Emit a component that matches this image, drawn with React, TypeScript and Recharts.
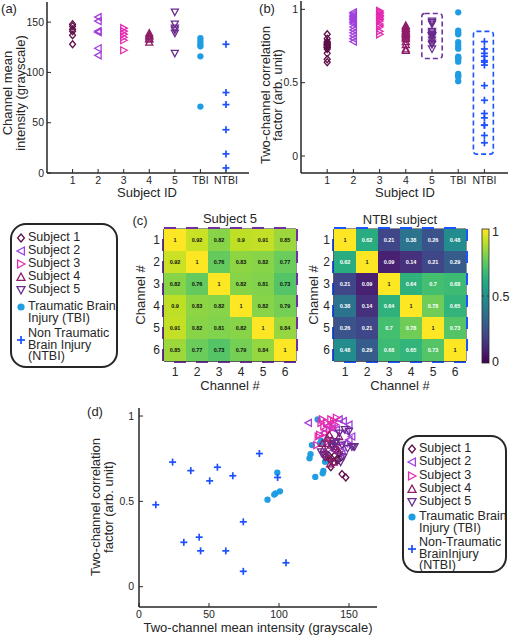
import React from "react";
import { ReferenceArea, Scatter, ScatterChart, XAxis, YAxis } from "recharts";

const SUBJECT_IDS = ["1", "2", "3", "4", "5", "TBI", "NTBI"];
const GROUP_TICKS = [1, 2, 3, 4, 5, 6, 7];
const CHANNELS = [1, 2, 3, 4, 5, 6];

// (a) channel mean intensity, one value per channel
const MEAN_S1 = [148, 146, 143, 141, 137, 128];
const MEAN_S2 = [155, 151, 141, 140, 124, 117];
const MEAN_S3 = [144, 141, 138, 135, 132, 122];
const MEAN_S4 = [139, 137, 136, 134, 133, 130];
const MEAN_S5 = [160, 148, 144, 142, 139, 119];
const MEAN_TBI = [134, 131, 128, 126, 116, 66];
const MEAN_NTBI = [128, 80, 68, 43, 19, 5];

// (b)/(d) two-channel correlation, one value per channel pair
const CORR_S1 = [0.83, 0.8, 0.78, 0.77, 0.77, 0.76, 0.76, 0.75, 0.75, 0.74, 0.74, 0.73, 0.7, 0.66, 0.64];
const CORR_S2 = [0.98, 0.97, 0.96, 0.95, 0.94, 0.93, 0.92, 0.91, 0.9, 0.88, 0.86, 0.84, 0.82, 0.8, 0.78];
const CORR_S3 = [0.99, 0.98, 0.98, 0.97, 0.96, 0.96, 0.95, 0.94, 0.93, 0.92, 0.9, 0.89, 0.88, 0.85, 0.83];
const CORR_S4 = [0.89, 0.88, 0.87, 0.86, 0.85, 0.84, 0.84, 0.83, 0.82, 0.81, 0.8, 0.78, 0.76, 0.73, 0.72];
const CORR_S5 = [0.92, 0.82, 0.9, 0.91, 0.85, 0.76, 0.83, 0.82, 0.77, 0.82, 0.81, 0.73, 0.82, 0.79, 0.84];
const CORR_TBI = [0.98, 0.854, 0.84, 0.83, 0.776, 0.752, 0.732, 0.678, 0.668, 0.664, 0.643, 0.559, 0.547, 0.54, 0.51];
const CORR_NTBI = [0.48, 0.73, 0.68, 0.26, 0.29, 0.21, 0.62, 0.7, 0.21, 0.65, 0.38, 0.09, 0.78, 0.64, 0.14];

// (d) two-channel mean intensity, same pair order as above
const PAIR_X_S1 = [138.5, 140.5, 143.5, 135.5, 139.8, 133, 144.5, 141.7, 136, 137, 142, 139.3, 137, 145, 147.7];
const PAIR_X_S2 = [143, 146, 121, 150, 135, 138, 141, 148, 132, 152, 150, 147, 144, 139, 145];
const PAIR_X_S3 = [141, 131, 137, 139, 134, 130, 140, 132, 138, 136, 133, 129, 128, 135, 127];
const PAIR_X_S4 = [136, 143, 134.5, 138, 141, 131, 134, 137, 140, 132, 142, 133, 135, 139, 136.5];
const PAIR_X_S5 = [147, 154, 143, 150, 141, 146, 145, 152, 132, 138, 149, 144, 153, 130, 140];
const PAIR_X_TBI = [127.6, 130.2, 129.3, 123.5, 122.5, 121.8, 132.9, 131.7, 98.8, 131.2, 125.9, 100.7, 97.6, 96.6, 91.8];
const PAIR_X_NTBI = [12, 24, 37, 32, 43, 44, 50.5, 56, 62, 67, 74.5, 74.5, 86, 99, 105];

// (c) correlation matrices
const SUBJECT5_MATRIX = [
  [1, 0.92, 0.82, 0.9, 0.91, 0.85],
  [0.92, 1, 0.76, 0.83, 0.82, 0.77],
  [0.82, 0.76, 1, 0.82, 0.81, 0.73],
  [0.9, 0.83, 0.82, 1, 0.82, 0.79],
  [0.91, 0.82, 0.81, 0.82, 1, 0.84],
  [0.85, 0.77, 0.73, 0.79, 0.84, 1],
];
const NTBI_MATRIX = [
  [1, 0.62, 0.21, 0.38, 0.26, 0.48],
  [0.62, 1, 0.09, 0.14, 0.21, 0.29],
  [0.21, 0.09, 1, 0.64, 0.7, 0.68],
  [0.38, 0.14, 0.64, 1, 0.78, 0.65],
  [0.26, 0.21, 0.7, 0.78, 1, 0.73],
  [0.48, 0.29, 0.68, 0.65, 0.73, 1],
];

const FONT = '"Liberation Sans", Arial, Helvetica, sans-serif';
const INK = "#262626";
const COLORS = {
  s1: "#5e1048",
  s2: "#a23fdc",
  s3: "#e42bb0",
  s4: "#8e1c68",
  s5: "#6a2b8e",
  tbi: "#1f9de2",
  ntbi: "#1c4fff",
  box5: "#7030a0",
  boxNtbi: "#1a55ff",
};

const VIRIDIS = ["#440154", "#482475", "#414487", "#355f8d", "#2a788e", "#21918c", "#22a884", "#44bf70", "#7ad151", "#bddf26", "#fde725"];

function mixHex(a: string, b: string, f: number) {
  const pa = [1, 3, 5].map((i) => parseInt(a.slice(i, i + 2), 16));
  const pb = [1, 3, 5].map((i) => parseInt(b.slice(i, i + 2), 16));
  return `rgb(${pa.map((v, i) => Math.round(v + (pb[i] - v) * f)).join(",")})`;
}

function viridis(t: number) {
  const p = Math.max(0, Math.min(1, t)) * 10;
  const i = Math.min(9, Math.floor(p));
  return mixHex(VIRIDIS[i], VIRIDIS[i + 1], p - i);
}

type Kind = "diamond" | "left" | "right" | "up" | "down" | "dot" | "plus";

const GROUPS: { name: string; kind: Kind; color: string; mean: number[]; corr: number[]; pairX: number[] }[] = [
  { name: "Subject 1", kind: "diamond", color: COLORS.s1, mean: MEAN_S1, corr: CORR_S1, pairX: PAIR_X_S1 },
  { name: "Subject 2", kind: "left", color: COLORS.s2, mean: MEAN_S2, corr: CORR_S2, pairX: PAIR_X_S2 },
  { name: "Subject 3", kind: "right", color: COLORS.s3, mean: MEAN_S3, corr: CORR_S3, pairX: PAIR_X_S3 },
  { name: "Subject 4", kind: "up", color: COLORS.s4, mean: MEAN_S4, corr: CORR_S4, pairX: PAIR_X_S4 },
  { name: "Subject 5", kind: "down", color: COLORS.s5, mean: MEAN_S5, corr: CORR_S5, pairX: PAIR_X_S5 },
  { name: "TBI", kind: "dot", color: COLORS.tbi, mean: MEAN_TBI, corr: CORR_TBI, pairX: PAIR_X_TBI },
  { name: "NTBI", kind: "plus", color: COLORS.ntbi, mean: MEAN_NTBI, corr: CORR_NTBI, pairX: PAIR_X_NTBI },
];

function Glyph({ kind, cx, cy, color, r = 3.5 }: { kind: Kind; cx: number; cy: number; color: string; r?: number }) {
  const sw = 1.3;
  const k = r * 0.85;
  switch (kind) {
    case "diamond":
      return <polygon points={`${cx},${cy - r} ${cx + k},${cy} ${cx},${cy + r} ${cx - k},${cy}`} fill="none" stroke={color} strokeWidth={sw} />;
    case "left":
      return <polygon points={`${cx - r},${cy} ${cx + k},${cy - r} ${cx + k},${cy + r}`} fill="none" stroke={color} strokeWidth={sw} />;
    case "right":
      return <polygon points={`${cx + r},${cy} ${cx - k},${cy - r} ${cx - k},${cy + r}`} fill="none" stroke={color} strokeWidth={sw} />;
    case "up":
      return <polygon points={`${cx},${cy - r} ${cx + r},${cy + k} ${cx - r},${cy + k}`} fill="none" stroke={color} strokeWidth={sw} />;
    case "down":
      return <polygon points={`${cx},${cy + r} ${cx + r},${cy - k} ${cx - r},${cy - k}`} fill="none" stroke={color} strokeWidth={sw} />;
    case "dot":
      return <circle cx={cx} cy={cy} r={r * 0.9} fill={color} />;
    default:
      return (
        <g stroke={color} strokeWidth={1.7}>
          <line x1={cx - r} x2={cx + r} y1={cy} y2={cy} />
          <line x1={cx} x2={cx} y1={cy - r} y2={cy + r} />
        </g>
      );
  }
}

function Txt({ x, y, children, size = 13, align = "center", rotate = false, lh = 13 }: any) {
  const tx = align === "center" ? "-50%" : "0";
  return (
    <div
      style={{
        position: "absolute",
        left: x,
        top: y,
        fontSize: size,
        lineHeight: `${lh}px`,
        whiteSpace: "nowrap",
        textAlign: "center",
        transform: `translate(${tx}, -50%)${rotate ? " rotate(-90deg)" : ""}`,
        transformOrigin: rotate ? "center" : undefined,
      }}
    >
      {children}
    </div>
  );
}

const axisStyle = { stroke: INK, strokeWidth: 1.5 };
const tickLine = { stroke: INK, strokeWidth: 1 };

function GroupPanel({ left, width, margin, yWidth, yDomain, yTicks, valueKey, extra }: any) {
  return (
    <div style={{ position: "absolute", left, top: 0 }}>
      <ScatterChart width={width} height={200} margin={margin}>
        <XAxis
          type="number"
          dataKey="x"
          domain={[0, 7.9]}
          ticks={GROUP_TICKS}
          interval={0}
          allowDataOverflow
          height={27}
          tickSize={-4}
          tickMargin={8}
          tickFormatter={(v: number) => SUBJECT_IDS[v - 1] ?? ""}
          axisLine={axisStyle}
          tickLine={tickLine}
          tick={{ fill: INK, fontSize: 10.5 }}
        />
        <YAxis
          type="number"
          dataKey="y"
          domain={yDomain}
          ticks={yTicks}
          interval={0}
          allowDataOverflow
          width={yWidth}
          tickSize={-4}
          tickMargin={7}
          axisLine={axisStyle}
          tickLine={tickLine}
          tick={{ fill: INK, fontSize: 10.5 }}
        />
        <XAxis xAxisId="top" orientation="top" type="number" domain={[0, 7.9]} ticks={GROUP_TICKS} interval={0} allowDataOverflow height={0} tickSize={-4} tick={false} axisLine={axisStyle} tickLine={tickLine} />
        <YAxis yAxisId="right" orientation="right" type="number" domain={yDomain} ticks={yTicks} interval={0} allowDataOverflow width={0} tickSize={-4} tick={false} axisLine={axisStyle} tickLine={tickLine} />
        {GROUPS.map((g, i) => (
          <Scatter
            key={g.name}
            data={g[valueKey as "mean" | "corr"].map((y) => ({ x: i + 1, y }))}
            isAnimationActive={false}
            shape={(p: any) => <Glyph kind={g.kind} cx={p.cx} cy={p.cy} color={g.color} />}
          />
        ))}
        {extra}
      </ScatterChart>
    </div>
  );
}

const dashedBox = (color: string) => (p: any) => (
  <rect x={p.x} y={p.y} width={p.width} height={p.height} rx={3} fill="none" stroke={color} strokeWidth={1.6} strokeDasharray="5 3" />
);

function Heatmap({ left, matrix, border, lightText }: { left: number; matrix: number[][]; border: string; lightText: boolean }) {
  const cells = matrix.flatMap((row, r) => row.map((v, c) => ({ col: c + 1, row: r + 1, v })));
  const cell = 22;
  return (
    <div style={{ position: "absolute", left, top: 215 }}>
      <ScatterChart width={175} height={180} margin={{ top: 14, right: 9, bottom: 0, left: 0 }}>
        <XAxis type="number" dataKey="col" domain={[0.5, 6.5]} ticks={CHANNELS} interval={0} allowDataOverflow height={34} tickSize={-3} tickMargin={9} axisLine={{ stroke: INK }} tickLine={tickLine} tick={{ fill: INK, fontSize: 12 }} />
        <YAxis type="number" dataKey="row" domain={[0.5, 6.5]} reversed ticks={CHANNELS} interval={0} allowDataOverflow width={34} tickSize={-3} tickMargin={7} axisLine={{ stroke: INK }} tickLine={tickLine} tick={{ fill: INK, fontSize: 12 }} />
        <Scatter
          data={cells}
          isAnimationActive={false}
          shape={(p: any) => {
            const v = p.payload.v;
            const fg = lightText && v < 1 ? "#ffffff" : "#111111";
            return (
              <g>
                <rect x={p.cx - cell / 2} y={p.cy - cell / 2} width={cell} height={cell} fill={viridis(v)} />
                <text x={p.cx} y={p.cy + 2} textAnchor="middle" fontSize={5.5} fontWeight={700} fill={fg}>
                  {String(v)}
                </text>
              </g>
            );
          }}
        />
        <ReferenceArea x1={0.5} x2={6.5} y1={0.5} y2={6.5} fill="none" fillOpacity={0} stroke={INK} strokeWidth={1} />
        <ReferenceArea x1={0.5} x2={6.5} y1={0.5} y2={6.5} fill="none" fillOpacity={0} stroke={border} strokeWidth={4} strokeDasharray="12 10" />
      </ScatterChart>
    </div>
  );
}

type LegendRow = { group: number; lines: string[]; y: number; markerY: number };

function LegendBox({ left, top, width, height, markerX, textX, rows }: { left: number; top: number; width: number; height: number; markerX: number; textX: number; rows: LegendRow[] }) {
  const ox = left + 2;
  const oy = top + 2;
  const lh = 11.3;
  return (
    <div style={{ position: "absolute", left, top, width, height, border: `2px solid ${INK}`, borderRadius: 16, boxSizing: "border-box" }}>
      {rows.map((row) => {
        const g = GROUPS[row.group];
        return (
          <React.Fragment key={g.name}>
            <svg width={12} height={12} style={{ position: "absolute", left: markerX - ox - 6, top: row.markerY - oy - 6 }}>
              <Glyph kind={g.kind} cx={6} cy={6} color={g.color} r={4} />
            </svg>
            <div style={{ position: "absolute", left: textX - ox, top: row.y - oy - lh / 2, fontSize: 12.5, lineHeight: `${lh}px`, whiteSpace: "nowrap" }}>
              {row.lines.map((line, i) => (
                <React.Fragment key={line}>
                  {i > 0 && <br />}
                  {line}
                </React.Fragment>
              ))}
            </div>
          </React.Fragment>
        );
      })}
    </div>
  );
}

const LEFT_LEGEND: LegendRow[] = [
  { group: 0, lines: ["Subject 1"], y: 238, markerY: 238 },
  { group: 1, lines: ["Subject 2"], y: 251, markerY: 251 },
  { group: 2, lines: ["Subject 3"], y: 264, markerY: 264 },
  { group: 3, lines: ["Subject 4"], y: 277, markerY: 277 },
  { group: 4, lines: ["Subject 5"], y: 290, markerY: 290 },
  { group: 5, lines: ["Traumatic Brain", "Injury (TBI)"], y: 307, markerY: 307 },
  { group: 6, lines: ["Non Traumatic", "Brain Injury", "(NTBI)"], y: 334, markerY: 340 },
];

const RIGHT_LEGEND: LegendRow[] = [
  { group: 0, lines: ["Subject 1"], y: 449, markerY: 449 },
  { group: 1, lines: ["Subject 2"], y: 462, markerY: 462 },
  { group: 2, lines: ["Subject 3"], y: 475.5, markerY: 475.5 },
  { group: 3, lines: ["Subject 4"], y: 489, markerY: 489 },
  { group: 4, lines: ["Subject 5"], y: 502, markerY: 502 },
  { group: 5, lines: ["Traumatic Brain", "Injury (TBI)"], y: 517, markerY: 517 },
  { group: 6, lines: ["Non-Traumatic", "BrainInjury", "(NTBI)"], y: 543, markerY: 549 },
];

export default function App() {
  const dOrder = [5, 6, 0, 1, 2, 3, 4];
  return (
    <div style={{ position: "relative", width: 510, height: 635, fontFamily: FONT, color: INK, background: "#fff", overflow: "hidden" }}>
      <style>{"body{margin:0}"}</style>

      {/* (a) channel mean intensity */}
      <GroupPanel left={0} width={255} margin={{ top: 2, right: 6, bottom: 0, left: 0 }} yWidth={47} yDomain={[0, 170]} yTicks={[0, 50, 100, 150]} valueKey="mean" />
      <Txt x={9} y={8}>(a)</Txt>
      <Txt x={14} y={93} rotate lh={12.5}>
        Channel mean
        <br />
        intensity (grayscale)
      </Txt>
      <Txt x={147} y={192}>Subject ID</Txt>

      {/* (b) two-channel correlation */}
      <GroupPanel
        left={255}
        width={255}
        margin={{ top: 1, right: 2, bottom: 0, left: 0 }}
        yWidth={46}
        yDomain={[-0.116, 1.057]}
        yTicks={[0, 0.5, 1]}
        valueKey="corr"
        extra={[
          <ReferenceArea key="b5" x1={4.61} x2={5.39} y1={0.665} y2={0.972} shape={dashedBox(COLORS.box5)} />,
          <ReferenceArea key="bn" x1={6.58} x2={7.34} y1={0.013} y2={0.85} shape={dashedBox(COLORS.boxNtbi)} />,
        ]}
      />
      <Txt x={267} y={8}>(b)</Txt>
      <Txt x={272} y={95} rotate lh={12}>
        Two-channel correlation
        <br />
        factor (arb. unit)
      </Txt>
      <Txt x={405} y={192}>Subject ID</Txt>

      {/* legend for (a)-(c) */}
      <LegendBox left={10} top={223} width={108} height={145} markerX={21} textX={28} rows={LEFT_LEGEND} />

      {/* (c) correlation matrices */}
      <Heatmap left={130} matrix={SUBJECT5_MATRIX} border={COLORS.box5} lightText={false} />
      <Heatmap left={300} matrix={NTBI_MATRIX} border={COLORS.boxNtbi} lightText />
      <Txt x={140} y={220}>(c)</Txt>
      <Txt x={230} y={218}>Subject 5</Txt>
      <Txt x={400} y={219}>NTBI subject</Txt>
      <Txt x={141} y={295} rotate lh={12}>Channel #</Txt>
      <Txt x={314} y={295} rotate lh={12}>Channel #</Txt>
      <Txt x={230} y={385} lh={11}>Channel #</Txt>
      <Txt x={400} y={385} lh={11}>Channel #</Txt>

      <svg width={9} height={136} style={{ position: "absolute", left: 481, top: 228 }}>
        <defs>
          <linearGradient id="vir" x1="0" y1="1" x2="0" y2="0">
            {VIRIDIS.map((c, i) => (
              <stop key={c} offset={`${i * 10}%`} stopColor={c} />
            ))}
          </linearGradient>
        </defs>
        <rect x={1} y={1} width={7} height={134} fill="url(#vir)" stroke={INK} strokeWidth={0.8} />
        <line x1={1} x2={3} y1={68} y2={68} stroke={INK} strokeWidth={0.8} />
        <line x1={6} x2={8} y1={68} y2={68} stroke={INK} strokeWidth={0.8} />
      </svg>
      <Txt x={492} y={232} align="left" size={12.5}>1</Txt>
      <Txt x={492} y={297} align="left" size={12.5}>0.5</Txt>
      <Txt x={492} y={362} align="left" size={12.5}>0</Txt>

      {/* (d) correlation vs mean intensity */}
      <div style={{ position: "absolute", left: 80, top: 400 }}>
        <ScatterChart width={300} height={235} margin={{ top: 8, right: 3, bottom: 0, left: 0 }}>
          <XAxis type="number" dataKey="x" domain={[0, 170]} ticks={[0, 50, 100, 150]} interval={0} allowDataOverflow height={28} tickSize={-4} tickMargin={8} axisLine={axisStyle} tickLine={tickLine} tick={{ fill: INK, fontSize: 10.5 }} />
          <YAxis type="number" dataKey="y" domain={[-0.119, 1.047]} ticks={[0, 0.5, 1]} interval={0} allowDataOverflow width={59} tickSize={-4} tickMargin={9} axisLine={axisStyle} tickLine={tickLine} tick={{ fill: INK, fontSize: 10.5 }} />
          <XAxis xAxisId="top" orientation="top" type="number" domain={[0, 170]} ticks={[0, 50, 100, 150]} interval={0} allowDataOverflow height={0} tickSize={-4} tick={false} axisLine={axisStyle} tickLine={tickLine} />
          <YAxis yAxisId="right" orientation="right" type="number" domain={[-0.119, 1.047]} ticks={[0, 0.5, 1]} interval={0} allowDataOverflow width={0} tickSize={-4} tick={false} axisLine={axisStyle} tickLine={tickLine} />
          {dOrder.map((gi) => {
            const g = GROUPS[gi];
            return (
              <Scatter
                key={g.name}
                data={g.pairX.map((x, k) => ({ x, y: g.corr[k] }))}
                isAnimationActive={false}
                shape={(p: any) => <Glyph kind={g.kind} cx={p.cx} cy={p.cy} color={g.color} />}
              />
            );
          })}
        </ScatterChart>
      </div>
      <Txt x={95} y={411}>(d)</Txt>
      <Txt x={102} y={507} rotate lh={13}>
        Two-channel correlation
        <br />
        factor (arb. unit)
      </Txt>
      <Txt x={258} y={627}>Two-channel mean intensity (grayscale)</Txt>

      <LegendBox left={402} top={435} width={105} height={138} markerX={411.7} textX={419} rows={RIGHT_LEGEND} />
    </div>
  );
}
